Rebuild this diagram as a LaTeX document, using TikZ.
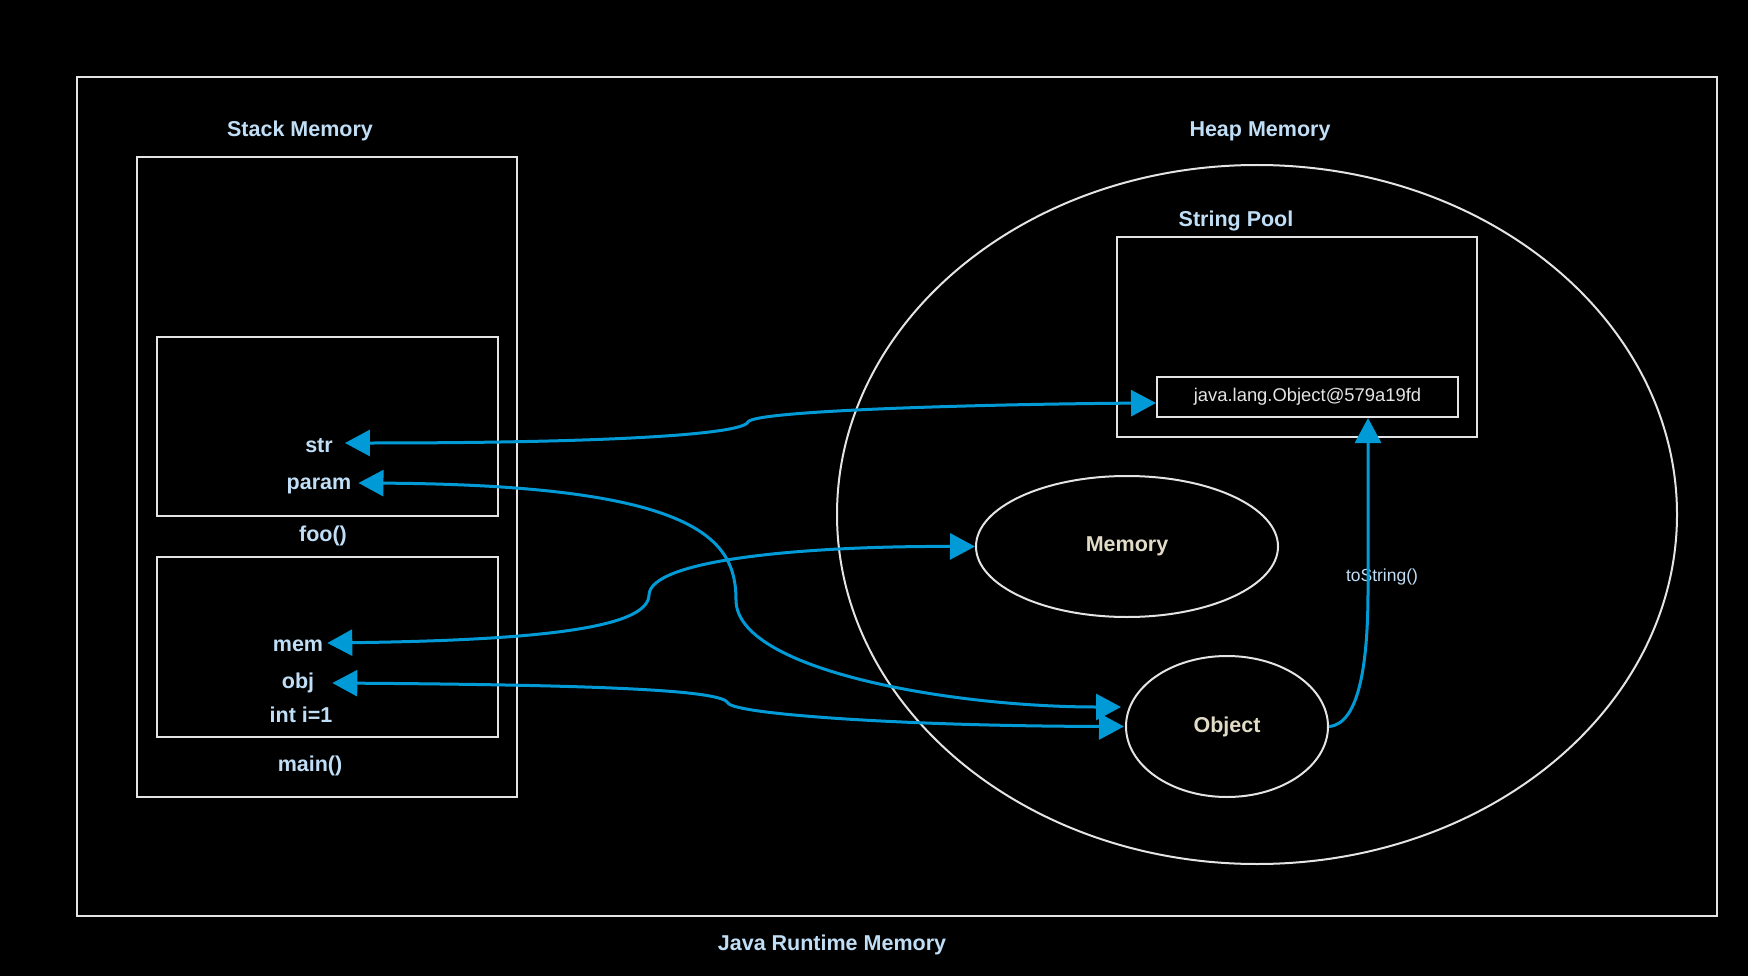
\documentclass[tikz,border=0pt]{standalone}
\usepackage{fontspec}
\setmainfont{Liberation Sans}
\usetikzlibrary{arrows.meta,shapes.geometric}
\definecolor{linkblue}{RGB}{0,155,215}
\definecolor{frame}{RGB}{228,228,228}
\definecolor{lbl}{RGB}{192,222,246}
\definecolor{beige}{RGB}{226,220,198}
\begin{document}
\begin{tikzpicture}[x=1pt,y=-1pt,
  box/.style={draw=frame,line width=2pt,rectangle,inner sep=0pt},
  oval/.style={draw=frame,line width=2pt,ellipse,inner sep=0pt},
  lab/.style={text=lbl,font=\bfseries\fontsize{21.5}{24}\selectfont,inner sep=0pt,yshift=-3pt},
  otxt/.style={text=beige,font=\bfseries\fontsize{21.5}{24}\selectfont},
  link/.style={draw=linkblue,line width=3pt,{Triangle[length=25pt,width=26pt]}-{Triangle[length=25pt,width=26pt]}},
  onelink/.style={draw=linkblue,line width=3pt,-{Triangle[length=25pt,width=26pt]}}]
\fill[black] (0,0) rectangle (1748,976);
\useasboundingbox (0,0) rectangle (1748,976);
% frames
\node[box,minimum width=1640pt,minimum height=839pt] (outer) at (897,496.5) {};
\node[box,minimum width=380pt,minimum height=640pt] (stack) at (327,477) {};
\node[box,minimum width=341pt,minimum height=179pt] (foo) at (327.5,426.5) {};
\node[box,minimum width=341pt,minimum height=180pt] (main) at (327.5,647) {};
\node[oval,minimum width=840pt,minimum height=699pt] (heap) at (1257,514.5) {};
\node[box,minimum width=360pt,minimum height=200pt] (pool) at (1297,337) {};
\node[box,minimum width=301pt,minimum height=40pt,text=frame,font=\fontsize{18.4}{20}\selectfont] (java) at (1307.5,397) {\raisebox{-2pt}{java.lang.Object@579a19fd}};
\node[oval,minimum width=302pt,minimum height=141pt,otxt] (memory) at (1127,546.5) {\raisebox{-3pt}{Memory}};
\node[oval,minimum width=202pt,minimum height=141pt,otxt] (object) at (1227,726.5) {\raisebox{-3pt}{Object}};
% labels
\node[lab] (stacklbl) at (300,128) {Stack Memory};
\node[lab] (heaplbl) at (1260,128) {Heap Memory};
\node[lab] (poollbl) at (1236,218) {String Pool};
\node[lab] (jrm) at (832,942) {Java Runtime Memory};
\node[lab] (foolbl) at (323,533) {foo()};
\node[lab] (mainlbl) at (310,763) {main()};
\node[lab] (str) at (319,443) {str};
\node[lab] (param) at (319,483) {param};
\node[lab] (mem) at (298,643) {mem};
\node[lab] (obj) at (298,680) {obj};
\node[lab] (inti) at (301,712) {int i=1};
\node[text=lbl,font=\fontsize{17.5}{19}\selectfont,inner sep=0pt] (tostr) at (1382,577) {toString()};
% connectors
\draw[link] ([shift={(12pt,3pt)}]str.east) .. controls (600,443) and (742,435) .. (748,422)
   .. controls (754,410) and (1000,404) .. ([yshift=-6pt]java.west);
\draw[link] ([shift={(7pt,3pt)}]param.east) .. controls (700,485) and (736,540) .. (736,600)
   .. controls (736,670) and (950,707) .. ([shift={(-4pt,19.5pt)}]object.west);
\draw[link] ([shift={(4pt,3pt)}]mem.east) .. controls (560,640) and (648,625) .. (649,595)
   .. controls (650,560) and (800,546) .. (memory.west);
\draw[link] ([shift={(18pt,0pt)}]obj.east) .. controls (600,685) and (722,690) .. (728,703)
   .. controls (734,714) and (900,726) .. ([xshift=-1pt]object.west);
\draw[onelink] (object.east) .. controls (1360,724) and (1368,660) .. (1368,590)
   -- ([xshift=60.5pt]java.south);
\end{tikzpicture}
\end{document}
